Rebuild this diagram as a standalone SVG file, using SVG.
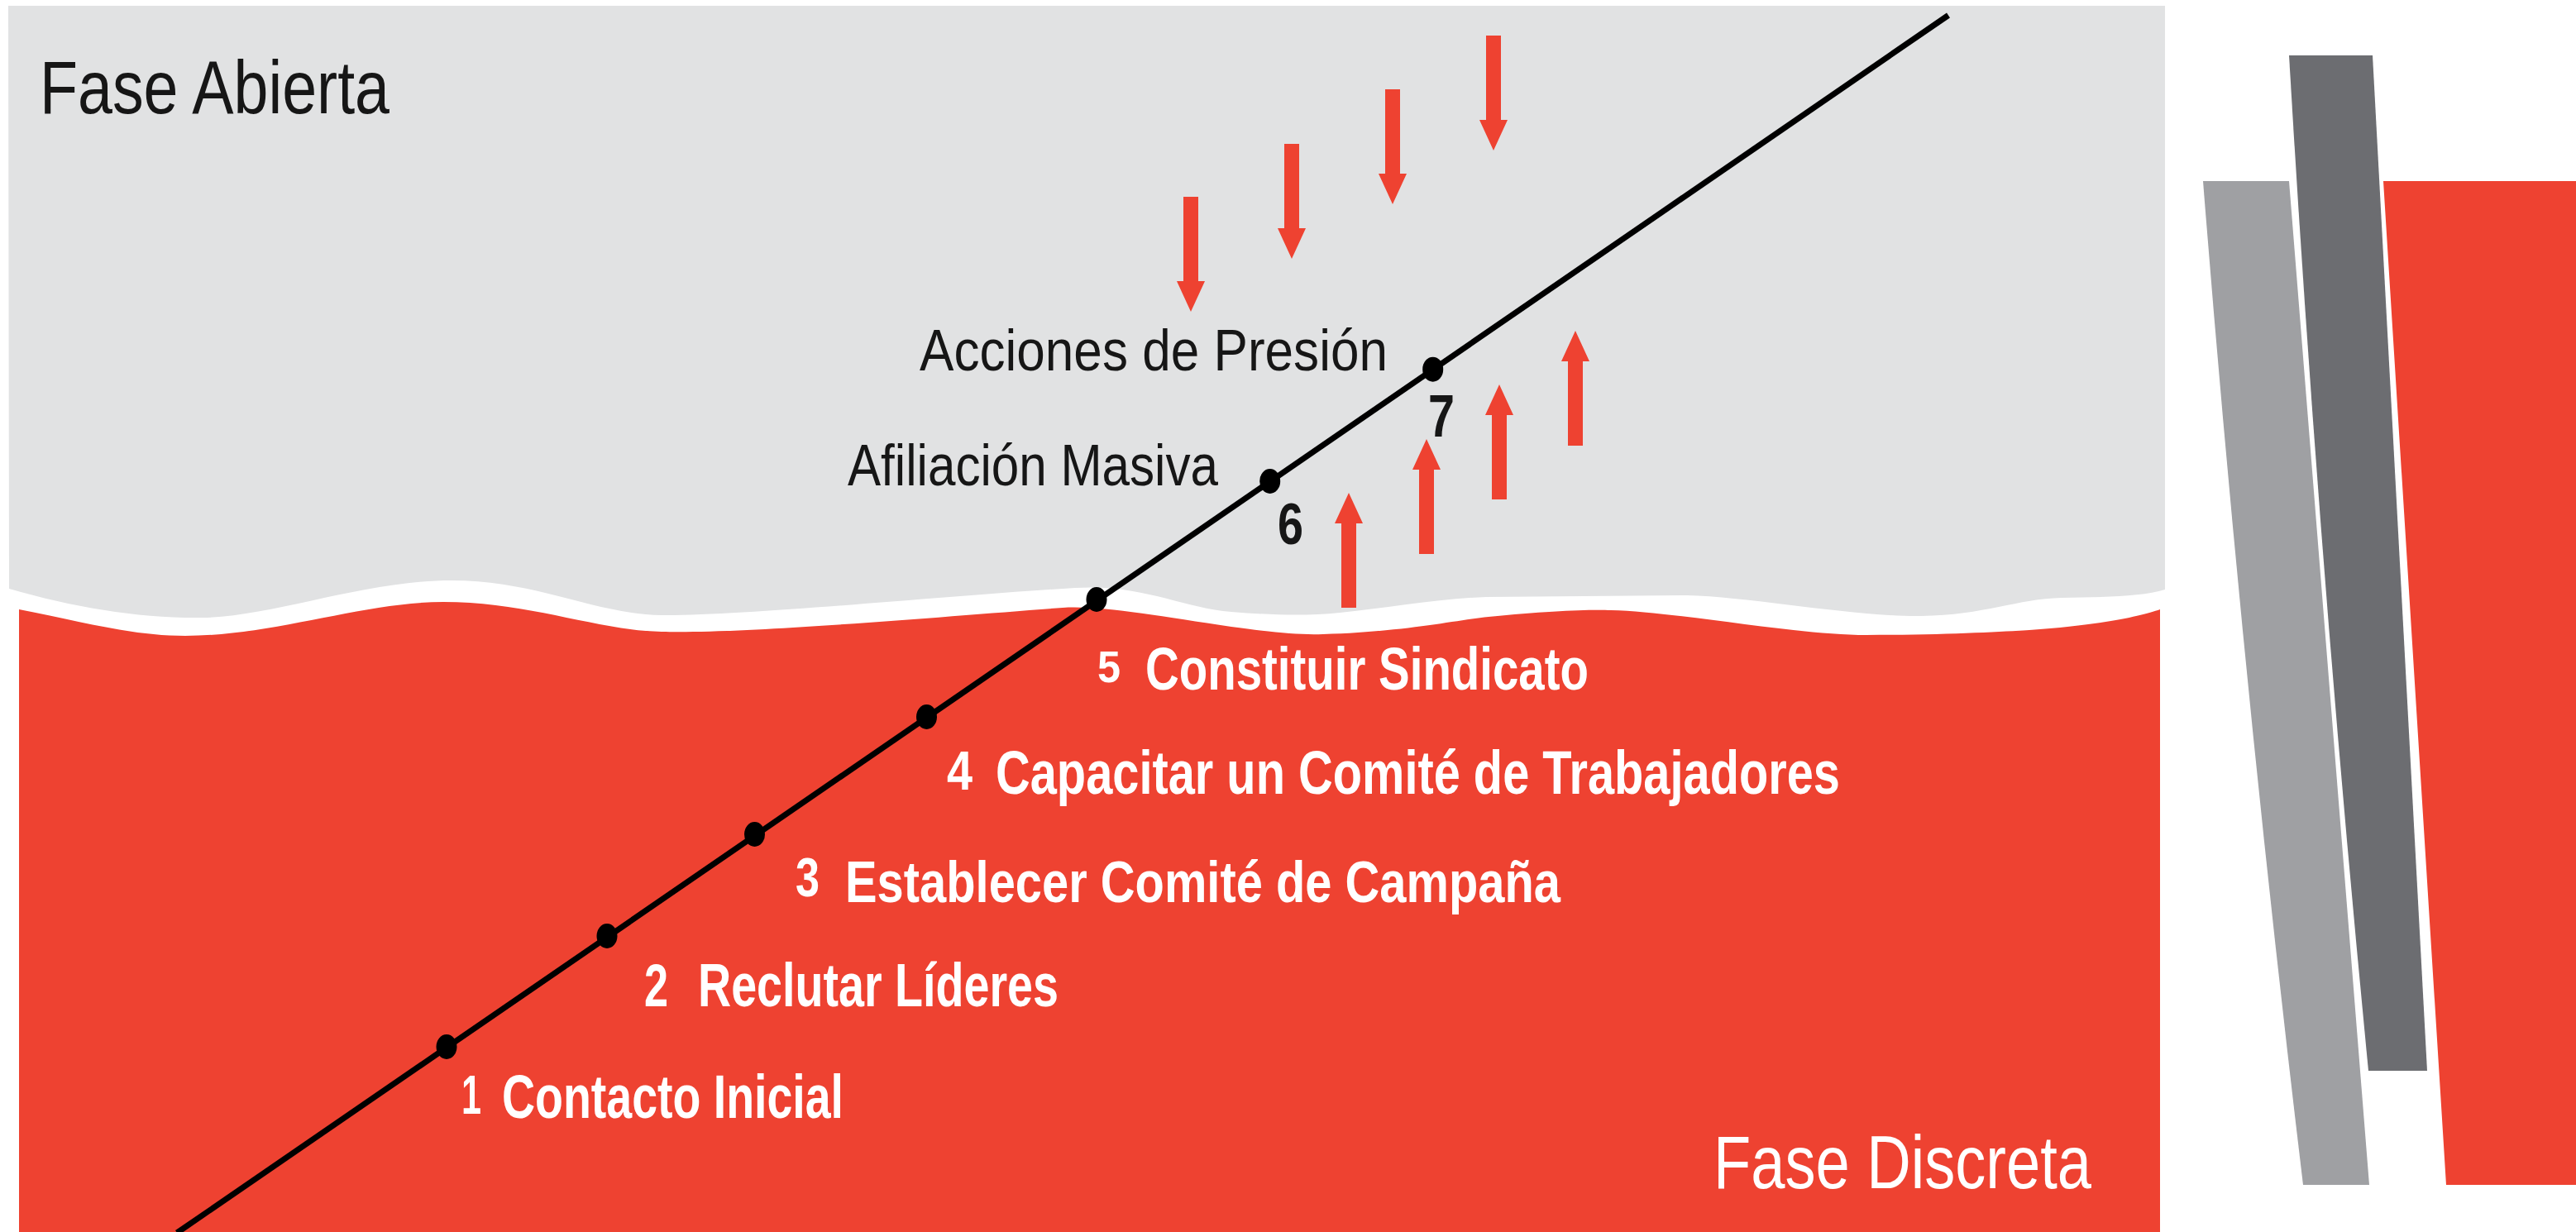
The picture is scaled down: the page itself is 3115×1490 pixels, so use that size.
<svg xmlns="http://www.w3.org/2000/svg" xmlns:xlink="http://www.w3.org/1999/xlink" width="3115" height="1490" viewBox="0 0 3115 1490">
  <style>
    .lbl { font-family: "Liberation Sans", Arial, sans-serif; }
    .blk { fill: #161616; font-weight: normal; }
    .wht { fill: #ffffff; font-weight: bold; }
    .num { font-weight: bold; }
    .red { fill: #EE4231; }
    .dot { fill: #000000; }
  </style>
  <defs>
    <path id="arr" d="M -9,-139 H 9 V -37 H 17 L 0,0 L -17,-37 H -9 Z"/>
  </defs>

  <rect x="0" y="0" width="3115" height="1490" fill="#ffffff"/>

  <g id="fase-abierta">
    <path fill="#E1E2E3" d="M 10,7 H 2618 V 713 C 2590,722 2540,722 2493,723 C 2440,724 2400,744 2323,745 C 2240,746 2120,722 2040,720 L 1797,722 C 1740,724 1680,735 1620,741 C 1580,745 1540,744 1489,740 C 1430,735 1380,706 1300,711 C 1150,720 900,745 800,744 C 720,743 650,702 546,702 C 440,702 330,746 245,747 C 170,748 90,735 11,712 Z"/>
    <text class="lbl blk" x="48" y="137" font-size="91" textLength="423" lengthAdjust="spacingAndGlyphs">Fase Abierta</text>
  </g>

  <g id="fase-discreta">
    <path class="red" d="M 23,737 C 100,752 160,769 224,769 C 330,769 440,728 536,728 C 640,728 720,762 800,764 C 900,767 1150,745 1285,735 C 1330,732 1400,745 1489,758 C 1540,765 1570,768 1600,767 C 1700,764 1760,750 1800,746 C 1870,739 1920,737 1948,738 C 2030,740 2170,768 2257,768 C 2350,768 2420,764 2454,762 C 2540,756 2590,745 2612,737 L 2612,1490 L 23,1490 Z"/>
    <text class="lbl" fill="#ffffff" x="2072" y="1437" font-size="90" textLength="457" lengthAdjust="spacingAndGlyphs">Fase Discreta</text>
  </g>

  <g id="decoracion">
    <path fill="#9FA0A3" d="M 2664,219 L 2768,219 L 2865,1433 L 2785,1433 Q 2712,826 2664,219 Z"/>
    <path fill="#6C6D71" d="M 2768,67 L 2869,67 L 2935,1295 L 2864,1295 Q 2804,681 2768,67 Z"/>
    <path class="red" d="M 2882,219 L 3115,219 L 3115,1433 L 2958,1433 Z"/>
  </g>

  <g id="connectors">
    <line x1="214" y1="1491" x2="2356" y2="18.5" stroke="#000000" stroke-width="7"/>
  </g>

  <g id="flechas-presion">
    <use xlink:href="#arr" class="red" transform="translate(1440,377)"/>
    <use xlink:href="#arr" class="red" transform="translate(1562,313)"/>
    <use xlink:href="#arr" class="red" transform="translate(1684,247)"/>
    <use xlink:href="#arr" class="red" transform="translate(1806,182)"/>
    <use xlink:href="#arr" class="red" transform="translate(1631,596) rotate(180)"/>
    <use xlink:href="#arr" class="red" transform="translate(1725,531) rotate(180)"/>
    <use xlink:href="#arr" class="red" transform="translate(1813,465) rotate(180)"/>
    <use xlink:href="#arr" class="red" transform="translate(1905,400) rotate(180)"/>
  </g>

  <g id="paso-1">
    <ellipse class="dot" cx="540" cy="1266" rx="12.5" ry="15"/>
    <text class="lbl wht" x="558" y="1347" font-size="66" textLength="24" lengthAdjust="spacingAndGlyphs">1</text>
    <text class="lbl wht" x="607" y="1352" font-size="74" textLength="413" lengthAdjust="spacingAndGlyphs">Contacto Inicial</text>
  </g>
  <g id="paso-2">
    <ellipse class="dot" cx="734" cy="1132" rx="12.5" ry="15"/>
    <text class="lbl wht" x="779" y="1217" font-size="72" textLength="29" lengthAdjust="spacingAndGlyphs">2</text>
    <text class="lbl wht" x="844" y="1217" font-size="74" textLength="436" lengthAdjust="spacingAndGlyphs">Reclutar Líderes</text>
  </g>
  <g id="paso-3">
    <ellipse class="dot" cx="912.5" cy="1009" rx="12.5" ry="15"/>
    <text class="lbl wht" x="962" y="1084" font-size="66" textLength="29" lengthAdjust="spacingAndGlyphs">3</text>
    <text class="lbl wht" x="1022" y="1091" font-size="70" textLength="865" lengthAdjust="spacingAndGlyphs">Establecer Comité de Campaña</text>
  </g>
  <g id="paso-4">
    <ellipse class="dot" cx="1120.5" cy="867" rx="12.5" ry="15"/>
    <text class="lbl wht" x="1145" y="955" font-size="66" textLength="31" lengthAdjust="spacingAndGlyphs">4</text>
    <text class="lbl wht" x="1204" y="960" font-size="74" textLength="1021" lengthAdjust="spacingAndGlyphs">Capacitar un Comité de Trabajadores</text>
  </g>
  <g id="paso-5">
    <ellipse class="dot" cx="1326" cy="725" rx="12.5" ry="15"/>
    <text class="lbl wht" x="1327" y="825" font-size="54" textLength="28" lengthAdjust="spacingAndGlyphs">5</text>
    <text class="lbl wht" x="1385" y="834" font-size="72" textLength="536" lengthAdjust="spacingAndGlyphs">Constituir Sindicato</text>
  </g>
  <g id="paso-6">
    <ellipse class="dot" cx="1535.7" cy="582" rx="12.5" ry="15"/>
    <text class="lbl blk num" x="1545" y="658" font-size="70" textLength="31" lengthAdjust="spacingAndGlyphs">6</text>
    <text class="lbl blk" x="1025" y="587" font-size="71" textLength="448" lengthAdjust="spacingAndGlyphs">Afiliación Masiva</text>
  </g>
  <g id="paso-7">
    <ellipse class="dot" cx="1732.7" cy="446.7" rx="12.5" ry="15"/>
    <text class="lbl blk num" x="1727" y="528" font-size="72" textLength="32" lengthAdjust="spacingAndGlyphs">7</text>
    <text class="lbl blk" x="1112" y="448" font-size="71" textLength="566" lengthAdjust="spacingAndGlyphs">Acciones de Presión</text>
  </g>
</svg>
